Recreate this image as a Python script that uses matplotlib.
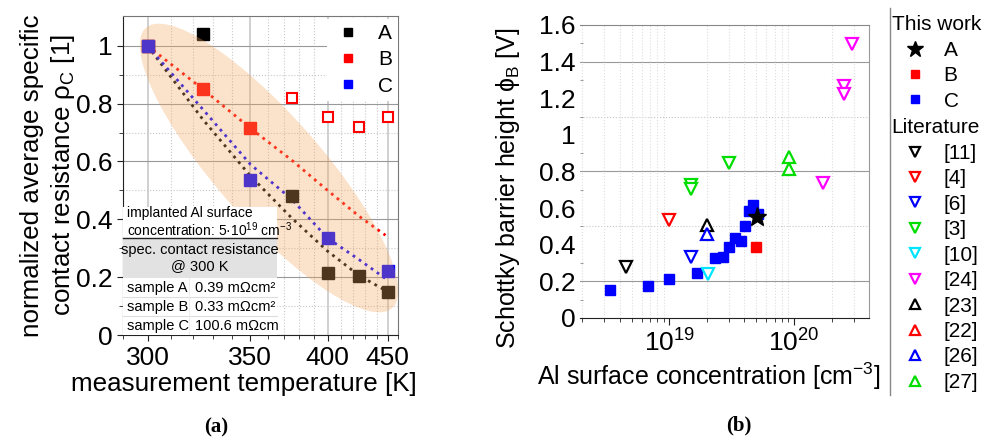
import numpy as np
import matplotlib
matplotlib.use('Agg')
import matplotlib.pyplot as plt
from matplotlib.patches import Ellipse, Rectangle
from matplotlib.lines import Line2D
from matplotlib.ticker import FixedLocator, NullFormatter, LogLocator, FuncFormatter
from matplotlib.transforms import Affine2D

plt.rcParams['font.family'] = ['Liberation Sans', 'DejaVu Sans']
plt.rcParams['mathtext.fontset'] = 'custom'
plt.rcParams['mathtext.rm'] = 'Liberation Sans'
plt.rcParams['mathtext.it'] = 'Liberation Sans:italic'
plt.rcParams['mathtext.bf'] = 'Liberation Sans:bold'

# ---- panel (a): normalized contact resistance vs temperature ----
temp_A = [300, 325, 375, 400, 425, 450]
rho_A = [1.0, 1.04, 0.48, 0.215, 0.205, 0.15]
temp_B = [300, 325, 350]
rho_B = [1.0, 0.85, 0.715]
temp_B_open = [375, 400, 425, 450]
rho_B_open = [0.82, 0.755, 0.72, 0.755]
temp_C = [300, 350, 400, 450]
rho_C = [1.0, 0.535, 0.335, 0.22]

fit_T = [300, 325, 350, 375, 400, 425, 450]
fit_A = [1.0, 0.745, 0.55, 0.405, 0.29, 0.205, 0.15]
fit_C = [1.0, 0.78, 0.59, 0.47, 0.335, 0.26, 0.19]
fit_B_T = [300, 325, 350, 375, 400, 425, 448]
fit_B = [1.0, 0.85, 0.715, 0.605, 0.5, 0.41, 0.345]

table_rows = [("sample A", "0.39 mΩcm²"),
              ("sample B", "0.33 mΩcm²"),
              ("sample C", "100.6 mΩcm")]

# ---- panel (b): Schottky barrier height vs Al concentration ----
conc_A = [5.08e19]
phi_A = [0.55]
conc_B = [5.0e19]
phi_B = [0.39]
conc_C = [3.34e18, 6.7e18, 1.0e19, 1.68e19, 2.34e19, 2.71e19, 3.03e19,
          3.34e19, 3.73e19, 4.02e19, 4.38e19, 4.72e19, 5.1e19]
phi_C = [0.153, 0.175, 0.211, 0.247, 0.326, 0.335, 0.39,
         0.435, 0.422, 0.5, 0.586, 0.617, 0.57]

lit_labels = ['[11]', '[4]', '[6]', '[3]', '[10]', '[24]', '[23]', '[22]', '[26]', '[27]']
lit_markers = ['v', 'v', 'v', 'v', 'v', 'v', '^', '^', '^', '^']
lit_colors = ['black', '#ff0000', '#0000ff', '#00dd00', '#00e5ff', '#ff00ff',
              'black', '#ff0000', '#0000ff', '#00dd00']
lit_conc = [[4.5e18], [1.0e19], [1.49e19], [1.5e19, 1.5e19, 3.03e19], [2.03e19],
            [1.72e20, 2.53e20, 2.53e20, 2.93e20], [2.0e19], [], [2.0e19], [9.16e19, 9.16e19]]
lit_phi = [[0.28], [0.535], [0.331], [0.726, 0.703, 0.845], [0.24],
           [0.735, 1.267, 1.223, 1.496], [0.508], [], [0.459], [0.881, 0.812]]

fig = plt.figure(figsize=(9.84, 4.4), dpi=100)

# ================= (a) =================
ax = fig.add_axes([0.1247, 0.2386, 0.2798, 0.725])
ax.set_xscale('function', functions=(lambda T: -1000.0 / T, lambda u: -1000.0 / u))
ax.set_xlim(290, 460)
ax.set_ylim(0, 1.103)
ax.xaxis.set_major_locator(FixedLocator([300, 350, 400, 450]))
ax.xaxis.set_minor_locator(FixedLocator([290, 310, 320, 330, 340, 360, 370, 380,
                                         390, 410, 420, 430, 440, 460]))
ax.xaxis.set_major_formatter(FuncFormatter(lambda v, p: f"{v:.0f}"))
ax.xaxis.set_minor_formatter(NullFormatter())
ax.yaxis.set_major_locator(FixedLocator([0, 0.2, 0.4, 0.6, 0.8, 1.0]))
ax.yaxis.set_minor_locator(FixedLocator([0.1, 0.3, 0.5, 0.7, 0.9]))
ax.yaxis.set_major_formatter(FuncFormatter(lambda v, p: f"{v:g}"))

ax.grid(True, which='major', axis='y', color='#999999', lw=0.8, zorder=0)
ax.grid(True, which='minor', axis='y', color='#c8c8c8', lw=0.8, ls=':', zorder=0)
ax.grid(True, which='major', axis='x', color='#c8c8c8', lw=1.2, zorder=0)
ax.grid(True, which='minor', axis='x', color='#c8c8c8', lw=0.8, ls=':', zorder=0)
ax.set_axisbelow(True)

ax.tick_params(which='both', direction='out', labelsize=19, color='#222222')
ax.tick_params(which='major', length=4)
ax.tick_params(which='minor', length=3)
ax.tick_params(axis='x', pad=4)
ax.tick_params(axis='y', pad=3)
for s in ['left', 'bottom']:
    ax.spines[s].set_color('#222222')
for s in ['top', 'right']:
    ax.spines[s].set_color('#777777')

ax.plot(fit_T, fit_A, ls=':', color='black', lw=2, zorder=2)
ax.plot(fit_T, fit_C, ls=':', color='#0000ff', lw=2, zorder=2)
ax.plot(fit_B_T, fit_B, ls=':', color='#ff0000', lw=2, zorder=2)

ax.plot(temp_A, rho_A, 's', color='black', ms=8, zorder=3, label='A')
ax.plot(temp_B, rho_B, 's', color='#ff0000', ms=8, zorder=3, label='B')
ax.plot(temp_C, rho_C, 's', color='#0000ff', ms=8, zorder=3, label='C')
ax.plot(temp_B_open, rho_B_open, 's', mfc='white', mec='#ff0000', mew=1.5, ms=7, zorder=3)

# highlighted region, drawn in axes pixel units so the angle is the visual one
W, H = 275.3, 319.0
ell_tr = Affine2D().scale(1 / W, 1 / H) + ax.transAxes
ax.add_patch(Ellipse((146.3, 167), 373, 105, angle=-48.7, transform=ell_tr,
                     facecolor='#f5a65b', alpha=0.32, edgecolor='none', zorder=4))

leg = ax.legend(loc='upper right', bbox_to_anchor=(1.0, 0.99), borderaxespad=0,
                fontsize=15, frameon=True, fancybox=False, framealpha=1,
                edgecolor='none', facecolor='white', handlelength=1.5,
                handletextpad=0.7, borderpad=0.25, labelspacing=0.34, markerscale=0.8)
leg.set_zorder(6)

# annotation box and small table
ax.add_patch(Rectangle((0, 97 / H), 154.3 / W, 31 / H, transform=ax.transAxes,
                       facecolor='white', edgecolor='none', zorder=5))
ax.text(0.016, 0.384, "implanted Al surface", transform=ax.transAxes,
        fontsize=10, va='center', ha='left', zorder=6)
ax.text(0.016, 0.329, "concentration: 5·10$^{19}$ cm$^{-3}$", transform=ax.transAxes,
        fontsize=10, va='center', ha='left', zorder=6)
ax.add_patch(Rectangle((0, 57 / H), 154.3 / W, 40 / H, transform=ax.transAxes,
                       facecolor='#e2e2e2', edgecolor='none', zorder=5))
ax.add_patch(Rectangle((0, 0), 154.3 / W, 57 / H, transform=ax.transAxes,
                       facecolor='white', edgecolor='none', zorder=5))
ax.plot([0, 154.3 / W], [97 / H, 97 / H], transform=ax.transAxes, color='#222222',
        lw=1, zorder=6, clip_on=False)
for yy in [38 / H, 19 / H]:
    ax.plot([0, 154.3 / W], [yy, yy], transform=ax.transAxes, color='#dddddd',
            lw=0.8, zorder=6)
ax.plot([66.3 / W, 66.3 / W], [0, 57 / H], transform=ax.transAxes, color='#eeeeee',
        lw=0.8, zorder=6)
ax.text(0.28, 0.266, "spec. contact resistance", transform=ax.transAxes,
        fontsize=10.5, ha='center', va='center', zorder=6)
ax.text(0.28, 0.215, "@ 300 K", transform=ax.transAxes,
        fontsize=10.5, ha='center', va='center', zorder=6)
for i, (name, val) in enumerate(table_rows):
    yc = (47.5 - 19 * i) / H
    ax.text(0.016, yc, name, transform=ax.transAxes, fontsize=10.5,
            ha='left', va='center', zorder=6)
    ax.text(0.264, yc, val, transform=ax.transAxes, fontsize=10.5,
            ha='left', va='center', zorder=6)

ax.set_xlabel("measurement temperature [K]", fontsize=18.7)
ax.xaxis.set_label_coords(0.44, -0.115)
ax.set_ylabel("normalized average specific\ncontact resistance ρ$_\\mathrm{C}$ [1]",
              fontsize=18.7, linespacing=1.25)
ax.yaxis.set_label_coords(-0.165, 0.5)

# ================= (b) =================
bx = fig.add_axes([0.5894, 0.2773, 0.2937, 0.6659])
bx.set_xscale('log')
bx.set_xlim(1.92e18, 3.99e20)
bx.set_ylim(0, 1.6)
bx.xaxis.set_major_locator(LogLocator(base=10, numticks=10))
bx.xaxis.set_minor_locator(LogLocator(base=10, subs=np.arange(2, 10), numticks=20))
bx.xaxis.set_minor_formatter(NullFormatter())
bx.yaxis.set_major_locator(FixedLocator([0, 0.2, 0.4, 0.6, 0.8, 1.0, 1.2, 1.4, 1.6]))
bx.yaxis.set_minor_locator(FixedLocator([0.1, 0.3, 0.5, 0.7, 0.9, 1.1, 1.3, 1.5]))
bx.yaxis.set_major_formatter(FuncFormatter(lambda v, p: f"{v:g}"))

for yy in [0.2, 0.8, 1.4]:
    bx.axhline(yy, color='#999999', lw=0.8, zorder=0)
for yy in [0.5, 1.1]:
    bx.axhline(yy, color='#c8c8c8', lw=0.8, ls=':', zorder=0)
bx.grid(True, which='minor', axis='x', color='#dddddd', lw=0.8, ls=':', zorder=0)

bx.spines['left'].set_visible(False)
bx.spines['bottom'].set_color('#222222')
bx.spines['top'].set_color('#888888')
bx.spines['right'].set_color('#999999')
bx.tick_params(axis='y', which='both', direction='in', labelsize=19, pad=3, color='#888888')
bx.tick_params(axis='y', which='major', length=0)
bx.tick_params(axis='y', which='minor', length=2)
bx.tick_params(axis='x', which='both', direction='out', labelsize=19, color='#222222')
bx.tick_params(axis='x', which='major', length=5)
bx.tick_params(axis='x', which='minor', length=3)

h_C, = bx.plot(conc_C, phi_C, 's', color='#0000ff', ms=7, zorder=3, ls='none')
h_B, = bx.plot(conc_B, phi_B, 's', color='#ff0000', ms=7, zorder=3, ls='none')
h_A, = bx.plot(conc_A, phi_A, '*', color='black', ms=14, zorder=4, ls='none')

lit_handles = []
for lab, mk, col, xs, ys in zip(lit_labels, lit_markers, lit_colors, lit_conc, lit_phi):
    h, = bx.plot(xs, ys, mk, mfc='white', mec=col, mew=1.6, ms=8, ls='none', zorder=3)
    lit_handles.append(h)

bx.set_xlabel("Al surface concentration [cm$^{-3}$]", fontsize=18)
bx.xaxis.set_label_coords(0.446, -0.145)
bx.set_ylabel("Schottky barrier height ϕ$_\\mathrm{B}$ [V]", fontsize=18)
bx.yaxis.set_label_coords(-0.2, 0.444)

# legend column on the right
leg_kw = dict(loc='upper left', alignment='left', fontsize=15, title_fontsize=15,
              frameon=False, borderpad=0, borderaxespad=0, handlelength=2.3,
              handletextpad=0.2, labelspacing=0.31, markerscale=0.85)
leg1 = fig.legend([h_A, h_B, h_C], ['A', 'B', 'C'], bbox_to_anchor=(0.906, 0.965),
                  title='This work', **leg_kw)
leg2 = fig.legend(lit_handles, lit_labels, bbox_to_anchor=(0.906, 0.731),
                  title='Literature', **leg_kw)
fig.add_artist(Line2D([890 / 984, 890 / 984], [1 - 8 / 440, 1 - 395 / 440],
                      transform=fig.transFigure, color='#888888', lw=1))

fig.text(216 / 984, 1 - 427 / 440, "(a)", family='Liberation Serif', fontsize=15,
         fontweight='bold', ha='center', va='center')
fig.text(739 / 984, 1 - 425 / 440, "(b)", family='Liberation Serif', fontsize=15,
         fontweight='bold', ha='center', va='center')

fig.savefig("out.png", dpi=100)
